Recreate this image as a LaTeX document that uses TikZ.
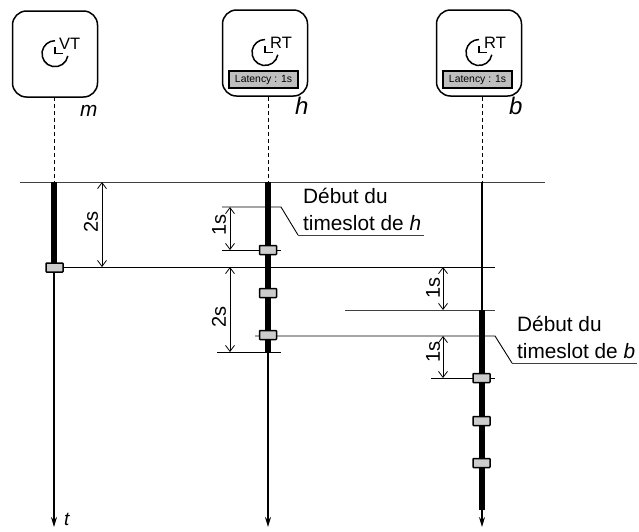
\documentclass[tikz,border=0pt]{standalone}
\usepackage{fontspec}
\setmainfont{Liberation Sans}
\usetikzlibrary{arrows.meta}
\tikzset{
  proc/.style={draw=black,line width=1.5pt,rounded corners=14pt,minimum width=85pt,minimum height=86pt,inner sep=0pt,fill=white},
  lat/.style={draw=black,line width=1.5pt,fill=black!25,minimum width=69pt,minimum height=17pt,inner sep=0pt,font=\fontsize{10.4}{12}\selectfont},
  mark box/.style={draw=black,line width=1.5pt,fill=black!20,minimum width=17pt,minimum height=9pt,inner sep=0pt,rounded corners=0.6pt},
  clockarc/.style={line width=1.5pt,draw=black},
  clk/.style={font=\fontsize{16.5}{18}\selectfont,inner sep=0pt,anchor=base west},
  who/.style={inner sep=0pt,anchor=base west},
  hline/.style={draw=black!75,line width=0.8pt},
  hblack/.style={draw=black,line width=0.9pt},
  dashl/.style={draw=black,line width=0.8pt,dash pattern=on 4pt off 3pt},
  thick seg/.style={draw=black,line width=6pt},
  thin seg/.style={draw=black,line width=1.5pt,-{Stealth[length=10pt,width=6pt]}},
  dim/.style={draw=black,line width=0.8pt,{Straight Barb[length=6pt,width=9pt]}-{Straight Barb[length=6pt,width=9pt]}},
  dimtxt/.style={rotate=90,inner sep=0pt,font=\fontsize{20}{22}\selectfont},
  note/.style={inner sep=0pt,anchor=base west,font=\fontsize{20.8}{24}\selectfont},
}
\begin{document}
\begin{tikzpicture}[x=1pt,y=-1pt]
\useasboundingbox (0,0) rectangle (639,531);
\fill[white] (0,0) rectangle (639,531);
% processes
\node[proc] (pm) at (55,54) {};
\node[proc] (ph) at (265,53) {};
\node[proc] (pb) at (479,53) {};
\node[lat] (lh) at (263.5,79.5) {Latency : 1s};
\node[lat] (lb) at (477.5,79.5) {Latency : 1s};
% clocks
\foreach \cx/\cy in {55/53.7,265/52.5,479/52.5}{
  \draw[clockarc] (\cx,\cy) ++(10:13) arc[start angle=10,end angle=270,radius=13];
  \draw[clockarc] (\cx,\cy-6.5) -- (\cx,\cy) -- (\cx+7.5,\cy);
}
\node[clk] (vt) at (59,49) {VT};
\node[clk] (rth) at (270,48.5) {RT};
\node[clk] (rtb) at (484,48.5) {RT};
\node[who,font=\fontsize{20.8}{24}\selectfont\itshape] (nm) at (80,116) {m};
\node[who,font=\fontsize{24}{26}\selectfont\itshape] (nh) at (295,114.5) {h};
\node[who,font=\fontsize{24}{26}\selectfont\itshape] (nb) at (509,114.5) {b};
\node[who,font=\fontsize{19}{21}\selectfont\itshape] (nt) at (64,525.5) {t};
% coordinates
\coordinate (m0) at (54,97);   \coordinate (m1) at (54,182);  \coordinate (m2) at (54,267);  \coordinate (m3) at (54,527);
\coordinate (h0) at (268,97);  \coordinate (h1) at (268,182); \coordinate (h2) at (268,352); \coordinate (h3) at (268,527);
\coordinate (b0) at (482,97);  \coordinate (b1) at (482,182); \coordinate (b2) at (482,310); \coordinate (b2b) at (482,510); \coordinate (b3) at (482,527);
% horizontal lines
\coordinate (t0) at (20,182);  \coordinate (t1) at (545,182);
\coordinate (u1) at (495,267);
\coordinate (v0) at (345,310); \coordinate (v1) at (495,310);
\coordinate (w0) at (222,207); \coordinate (w1) at (281,207); \coordinate (w2) at (298,235); \coordinate (w3) at (424,235);
\coordinate (x0) at (222,250); \coordinate (x1) at (281,250);
\coordinate (y0) at (217,352); \coordinate (y1) at (281,352);
\coordinate (z0) at (255,336); \coordinate (z1) at (495,336); \coordinate (z2) at (512,363); \coordinate (z3) at (637,363);
\coordinate (q0) at (431,378); \coordinate (q1) at (495,378);
\draw[hline] (t0) -- (t1);
\draw[hblack] (m2) -- (u1);
\draw[hline] (v0) -- (v1);
\draw[hblack] (x0) -- (x1);
\draw[hblack] (y0) -- (y1);
\draw[hblack] (q0) -- (q1);
% dashes
\draw[dashl] (m0) -- (m1);
\draw[dashl] (h0) -- (h1);
\draw[dashl] (b0) -- (b1);
% lifelines
\draw[thin seg] (m1) -- (m3);
\draw[thin seg] (h1) -- (h3);
\draw[thin seg] (b1) -- (b3);
\draw[thick seg] (m1) -- (m2);
\draw[thick seg] (h1) -- (h2);
\draw[thick seg] (b2) -- (b2b);
% note leaders
\draw[hblack] (w0) -- (w1) -- (w2);
\draw[hline] (w2) -- (w3);
\draw[hblack] (z0) -- (z1) -- (z2);
\draw[hline] (z2) -- (z3);
% markers
\node[mark box] (m-a) at (54.5,267.5) {};
\node[mark box] (h-a) at (268,250) {};
\node[mark box] (h-b) at (268,293) {};
\node[mark box] (h-c) at (268,335) {};
\node[mark box] (b-a) at (481.5,378) {};
\node[mark box] (b-b) at (481.5,421) {};
\node[mark box] (b-c) at (481.5,463) {};
% dimensions
\coordinate (d1a) at (102,182); \coordinate (d1b) at (102,267);
\coordinate (d2a) at (230,207); \coordinate (d2b) at (230,250);
\coordinate (d3a) at (230,267); \coordinate (d3b) at (230,352);
\coordinate (d4a) at (443,267); \coordinate (d4b) at (443,310);
\coordinate (d5a) at (443,336); \coordinate (d5b) at (443,378);
\draw[dim] (d1a) -- (d1b);
\draw[dim] (d2a) -- (d2b);
\draw[dim] (d3a) -- (d3b);
\draw[dim] (d4a) -- (d4b);
\draw[dim] (d5a) -- (d5b);
\node[dimtxt] (s1) at (91,222) {2s};
\node[dimtxt] (s2) at (219,225) {1s};
\node[dimtxt] (s3) at (219,317) {2s};
\node[dimtxt] (s4) at (433,288) {1s};
\node[dimtxt] (s5) at (433,352) {1s};
% notes
\node[note] (n1) at (303,203) {Début du};
\node[note] (n2) at (303,230) {timeslot de \textit{h}};
\node[note] (n3) at (517,331) {Début du};
\node[note] (n4) at (517,358) {timeslot de \textit{b}};
\end{tikzpicture}
\end{document}
